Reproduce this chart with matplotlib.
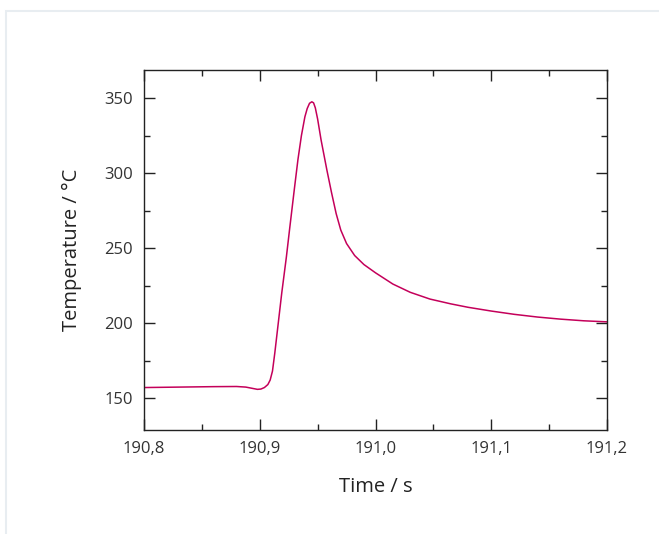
import matplotlib.pyplot as plt
from matplotlib.patches import Rectangle
from matplotlib.ticker import MultipleLocator, FuncFormatter

plt.rcParams['font.family'] = ['Open Sans', 'DejaVu Sans']

# values
time_s = [190.80, 190.83, 190.86, 190.88, 190.888, 190.894, 190.898, 190.901,
          190.904, 190.907, 190.909, 190.911, 190.913, 190.916, 190.919,
          190.923, 190.926, 190.930, 190.933, 190.936, 190.939, 190.941,
          190.943, 190.945, 190.9465, 190.948, 190.950, 190.953, 190.958,
          190.962, 190.966, 190.970, 190.975, 190.982, 190.990, 191.000,
          191.015, 191.030, 191.047, 191.065, 191.080, 191.100, 191.120,
          191.140, 191.160, 191.180, 191.200]
temp_c = [157.0, 157.3, 157.6, 157.7, 157.3, 156.4, 155.8, 156.0,
          157.0, 159.0, 162.0, 168.0, 180.0, 200.0, 220.0,
          244.0, 264.0, 290.0, 309.0, 325.0, 337.5, 343.0,
          346.5, 347.5, 346.8, 343.5, 336.0, 322.0, 302.0,
          287.0, 273.0, 262.0, 253.0, 245.0, 239.0, 233.5,
          226.0, 220.5, 216.0, 212.8, 210.5, 208.0, 205.8,
          204.0, 202.6, 201.5, 200.8]

line_color = '#c4005a'
ink = '#222222'

fig = plt.figure(figsize=(6.59, 5.34), dpi=100)
W, H = 659, 534

# light frame around the chart area
fig.patches.append(Rectangle((6 / W, -0.01), 1.0, 1 - 11 / H + 0.01,
                             transform=fig.transFigure, fill=False,
                             edgecolor='#e8edf1', linewidth=1.5))

ax = fig.add_axes([144 / W, 1 - 430 / H, (607 - 144) / W, (430 - 70) / H])
ax.plot(time_s, temp_c, color=line_color, linewidth=1.1)

ax.set_xlim(190.8, 191.2)
ax.set_ylim(128.7, 368.7)
ax.xaxis.set_major_locator(MultipleLocator(0.1))
ax.xaxis.set_minor_locator(MultipleLocator(0.05))
ax.yaxis.set_major_locator(MultipleLocator(50))
ax.yaxis.set_minor_locator(MultipleLocator(25))
ax.xaxis.set_major_formatter(FuncFormatter(lambda v, p: f'{v:.1f}'.replace('.', ',')))
ax.yaxis.set_major_formatter(FuncFormatter(lambda v, p: f'{v:.0f}'))

ax.tick_params(which='both', direction='in', top=True, right=True,
               color=ink, width=1.0, labelcolor='#333333', labelsize=12)
ax.tick_params(which='major', length=8, pad=8)
ax.tick_params(which='minor', length=4.5)
for s in ax.spines.values():
    s.set_color(ink)
    s.set_linewidth(1.0)

ax.set_xlabel('Time / s', fontsize=14.5, color=ink, labelpad=14)
ax.set_ylabel('Temperature / °C', fontsize=14.5, color=ink, labelpad=16)

fig.savefig('out.png', dpi=100, facecolor='white')
